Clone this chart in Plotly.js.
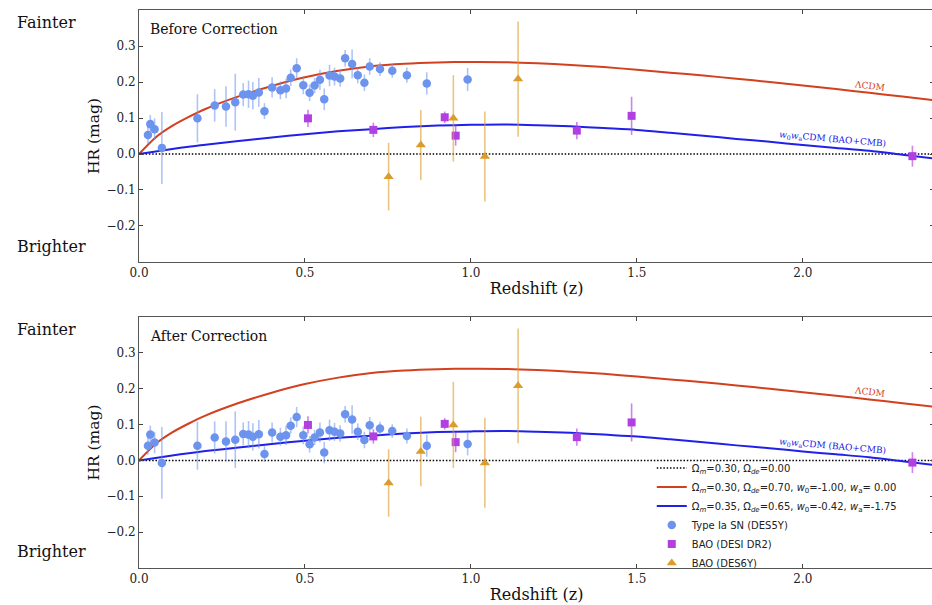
<!DOCTYPE html>
<html><head><meta charset="utf-8">
<script src="https://cdn.plot.ly/plotly-3.0.1.min.js"></script>
<style>html,body{margin:0;padding:0;overflow:hidden;background:#fff}</style>
</head><body><div id="chart"></div>
<script>
// Model curves
const zCurve = [0, 0.05, 0.1, 0.15, 0.2, 0.3, 0.4, 0.5, 0.6, 0.7, 0.8, 0.9, 1.0, 1.1, 1.2, 1.3, 1.4, 1.5, 1.6, 1.7, 1.8, 1.9, 2.0, 2.1, 2.2, 2.3, 2.4];
const hrLCDM = [0, 0.046, 0.078, 0.103, 0.125, 0.160, 0.189, 0.213, 0.231, 0.244, 0.251, 0.2545, 0.2558, 0.2552, 0.252, 0.2475, 0.2415, 0.234, 0.226, 0.218, 0.209, 0.200, 0.1905, 0.1805, 0.170, 0.1595, 0.149];
const hrW0Wa = [0, 0.007, 0.014, 0.020, 0.026, 0.036, 0.046, 0.055, 0.063, 0.069, 0.075, 0.079, 0.081, 0.082, 0.080, 0.077, 0.072, 0.067, 0.059, 0.051, 0.042, 0.034, 0.025, 0.017, 0.009, -0.002, -0.013];
const zRef = [0, 2.4];
const hrRef = [0, 0];

// Type Ia SN (DES5Y)
const zSN = [0.027,0.034,0.047,0.069,0.176,0.228,0.262,0.290,0.314,0.330,0.343,0.361,0.378,0.401,0.426,0.443,0.457,0.475,0.495,0.514,0.529,0.545,0.558,0.574,0.589,0.606,0.621,0.642,0.659,0.679,0.695,0.726,0.763,0.807,0.867,0.990];
const hrSNBefore = [0.053,0.083,0.069,0.017,0.099,0.135,0.132,0.144,0.165,0.166,0.162,0.171,0.119,0.185,0.177,0.182,0.212,0.238,0.191,0.170,0.190,0.206,0.152,0.218,0.215,0.210,0.266,0.250,0.219,0.198,0.243,0.236,0.231,0.219,0.196,0.207];
const hrSNAfter = [0.041,0.072,0.050,-0.007,0.041,0.064,0.053,0.058,0.074,0.072,0.066,0.073,0.018,0.078,0.066,0.070,0.097,0.121,0.070,0.045,0.064,0.078,0.022,0.084,0.080,0.075,0.129,0.114,0.080,0.057,0.098,0.089,0.082,0.068,0.041,0.046];
const errSN = [0.025,0.025,0.030,0.100,0.067,0.045,0.056,0.079,0.032,0.038,0.038,0.040,0.022,0.028,0.025,0.027,0.023,0.028,0.025,0.023,0.021,0.028,0.030,0.030,0.025,0.023,0.023,0.040,0.023,0.023,0.023,0.019,0.019,0.021,0.031,0.032];

// BAO (DESI DR2)
const zDESI = [0.509,0.706,0.921,0.954,1.319,1.484,2.330];
const hrDESI = [0.099,0.067,0.102,0.051,0.065,0.106,-0.006];
const errDESI = [0.024,0.020,0.016,0.028,0.024,0.053,0.029];

// BAO (DES6Y)
const zDES6 = [0.752,0.849,0.947,1.042,1.142];
const hrDES6 = [-0.063,0.025,0.099,-0.007,0.208];
const errDES6 = [0.094,0.097,0.120,0.125,0.160];

const legendText = [
  "Ω<sub><i>m</i></sub>=0.30, Ω<sub><i>de</i></sub>=0.00",
  "Ω<sub><i>m</i></sub>=0.30, Ω<sub><i>de</i></sub>=0.70, <i>w</i><sub>0</sub>=-1.00, <i>w</i><sub>a</sub>= 0.00",
  "Ω<sub><i>m</i></sub>=0.35, Ω<sub><i>de</i></sub>=0.65, <i>w</i><sub>0</sub>=-0.42, <i>w</i><sub>a</sub>=-1.75",
  "Type Ia SN (DES5Y)",
  "BAO (DESI DR2)",
  "BAO (DES6Y)"
];
const panelTitles = ["Before Correction", "After Correction"];

const RED = "#d2401e", BLUE = "#2020e8", SNC = "#6c93ee", DESIC = "#b23fe2", DES6C = "#dc9c2c";
const traces = [];
function panel(xa, ya, hrSN, show) {
  traces.push({x: zRef, y: hrRef, xaxis: xa, yaxis: ya, mode: "lines", name: legendText[0], legendgroup: "a", showlegend: show,
    line: {color: "#000", width: 1.5, dash: "1.5px,1.8px"}, hoverinfo: "skip"});
  traces.push({x: zCurve, y: hrLCDM, xaxis: xa, yaxis: ya, mode: "lines", name: legendText[1], legendgroup: "b", showlegend: show,
    line: {color: RED, width: 2, shape: "spline", smoothing: 0.8}});
  traces.push({x: zCurve, y: hrW0Wa, xaxis: xa, yaxis: ya, mode: "lines", name: legendText[2], legendgroup: "c", showlegend: show,
    line: {color: BLUE, width: 2, shape: "spline", smoothing: 0.8}});
  traces.push({x: zSN, y: hrSN, xaxis: xa, yaxis: ya, mode: "markers", name: legendText[3], legendgroup: "d", showlegend: show,
    marker: {color: SNC, size: 8.5, symbol: "circle"},
    error_y: {type: "data", array: errSN, visible: true, color: "rgba(108,147,238,0.55)", thickness: 1.6, width: 0}});
  traces.push({x: zDESI, y: hrDESI, xaxis: xa, yaxis: ya, mode: "markers", name: legendText[4], legendgroup: "e", showlegend: show,
    marker: {color: DESIC, size: 8, symbol: "square"},
    error_y: {type: "data", array: errDESI, visible: true, color: "rgba(178,63,226,0.65)", thickness: 1.6, width: 0}});
  traces.push({x: zDES6, y: hrDES6, xaxis: xa, yaxis: ya, mode: "markers", name: legendText[5], legendgroup: "f", showlegend: show,
    marker: {color: DES6C, size: 9, symbol: "triangle-up"},
    error_y: {type: "data", array: errDES6, visible: true, color: "rgba(220,156,44,0.6)", thickness: 1.6, width: 0}});
}
panel("x", "y", hrSNBefore, false);
panel("x2", "y2", hrSNAfter, true);

const serif = "DejaVu Serif, serif";
function xax(anchor) {
  return {anchor: anchor, range: [0, 2.395], dtick: 0.5, tick0: 0, tickformat: ".1f", ticks: "inside", ticklen: 4,
    tickcolor: "#444", showline: true, linecolor: "#555", linewidth: 1, mirror: "ticks", showgrid: false, zeroline: false,
    tickfont: {family: serif, size: 12, color: "#222"},
    title: {text: "Redshift (z)", font: {family: serif, size: 16, color: "#111"}, standoff: 3}};
}
function yax(anchor, domain) {
  return {anchor: anchor, domain: domain, range: [-0.3, 0.4], tickvals: [-0.2, -0.1, 0, 0.1, 0.2, 0.3], tickformat: ".1f",
    ticks: "inside", ticklen: 4, tickcolor: "#444", showline: true, linecolor: "#555", linewidth: 1, mirror: "ticks",
    showgrid: false, zeroline: false, tickfont: {family: serif, size: 12, color: "#222"},
    title: {text: "HR (mag)", font: {family: serif, size: 15.5, color: "#111"}, standoff: 3}};
}

const annotations = [];
const side = [{y0: 0.978, y1: 0.577}, {y0: 0.428, y1: 0.029}];
[["x", "y"], ["x2", "y2"]].forEach(([xa, ya], i) => {
  annotations.push({xref: "paper", yref: "paper", x: -0.156, y: side[i].y0, xanchor: "left", yanchor: "middle", showarrow: false,
    text: "Fainter", font: {family: serif, size: 16, color: "#111"}});
  annotations.push({xref: "paper", yref: "paper", x: -0.156, y: side[i].y1, xanchor: "left", yanchor: "middle", showarrow: false,
    text: "Brighter", font: {family: serif, size: 16, color: "#111"}});
  annotations.push({xref: xa + " domain", yref: ya + " domain", x: 0.011, y: 0.925, xanchor: "left", yanchor: "middle", showarrow: false,
    text: panelTitles[i], font: {family: serif, size: 14, color: "#111"}});
  annotations.push({xref: xa, yref: ya, x: 2.2, y: 0.19, showarrow: false, textangle: 7,
    text: "ΛCDM", font: {family: serif, size: 9, color: RED}});
  annotations.push({xref: xa, yref: ya, x: 2.09, y: 0.039, showarrow: false, textangle: 5,
    text: "<i>w</i><sub>0</sub><i>w</i><sub>a</sub>CDM (BAO+CMB)", font: {family: serif, size: 9, color: BLUE}});
});

const layout = {
  width: 934, height: 605,
  margin: {l: 139, r: 0, t: 10, b: 37},
  paper_bgcolor: "#fff", plot_bgcolor: "#fff",
  showlegend: true,
  legend: {x: 0.645, y: 0.205, xanchor: "left", yanchor: "top", bgcolor: "rgba(0,0,0,0)",
    font: {family: "DejaVu Sans, sans-serif", size: 10, color: "#222"}, itemwidth: 30, tracegroupgap: 0},
  xaxis: xax("y"), yaxis: yax("x", [0.5484, 1]),
  xaxis2: xax("y2"), yaxis2: yax("x2", [0, 0.4498]),
  annotations: annotations
};
Plotly.newPlot("chart", traces, layout, {displayModeBar: false});
</script></body></html>
